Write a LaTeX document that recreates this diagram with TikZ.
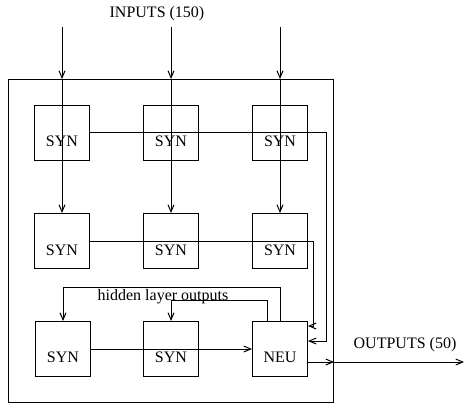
\documentclass[tikz,border=0pt]{standalone}
\usepackage{fontspec}
\setmainfont{Liberation Serif}
\usetikzlibrary{arrows.meta,calc}
\begin{document}
\begin{tikzpicture}[x=1pt, y=-1pt, >={Straight Barb[length=7pt,width=6pt]},
  font=\fontsize{16}{18}\selectfont, line width=1pt,
  caja/.style={draw, minimum width=55pt, minimum height=55pt, inner sep=0pt}]
  \useasboundingbox (0,0) rectangle (465,406);

  % --- marco exterior ---
  \node[draw, minimum width=325pt, minimum height=323pt, inner sep=0pt,
        anchor=north west] (M) at (8,79) {};

  % --- cajas ---
  \node[caja, label={[yshift=-8pt]center:SYN}] (s11) at (62,133) {};
  \node[caja, label={[yshift=-8pt]center:SYN}] (s12) at (171,133) {};
  \node[caja, label={[yshift=-8pt]center:SYN}] (s13) at (280,133) {};
  \node[caja, label={[yshift=-9pt]center:SYN}] (s21) at (62,241) {};
  \node[caja, label={[yshift=-9pt]center:SYN}] (s22) at (171,241) {};
  \node[caja, label={[yshift=-9pt]center:SYN}] (s23) at (280,241) {};
  \node[caja, label={[yshift=-8pt]center:SYN}] (s31) at (63,349) {};
  \node[caja, label={[yshift=-8pt]center:SYN}] (s32) at (171,349) {};
  \node[caja, label={[yshift=-8pt]center:NEU}] (neu) at (280,349) {};

  % --- entradas ---
  \coordinate (top) at (0,27);
  \node (lin) at (157,14) {INPUTS (150)};
  \draw[->] (s11 |- top) -- (s11 |- M.north);
  \draw[->] (s12 |- top) -- (s12 |- M.north);
  \draw[->] (s13 |- top) -- (s13 |- M.north);
  \draw[->] (s11 |- M.north) -- (s21.north);
  \draw[->] (s12 |- M.north) -- (s22.north);
  \draw[->] (s13 |- M.north) -- (s23.north);

  % --- filas hacia la neurona ---
  \coordinate (b1) at (326,0);
  \coordinate (b2) at (313,0);
  \coordinate (r1) at ([yshift=8pt]neu.east);
  \coordinate (r2) at ([yshift=23pt]neu.east);
  \draw[->] (s11.east) -- (b1 |- s11.east) -- (b1 |- r1) -- (r1);
  \draw[->] (s21.east) -- (b2 |- s21.east) -- (b2 |- r2) -- (r2);
  \draw[->] (s31.east) -- (neu.west);

  % --- salidas de la capa oculta ---
  \coordinate (h1) at (0,287);
  \coordinate (h2) at (0,300);
  \draw[->] (neu.north) |- (s31 |- h1) -- (s31.north);
  \draw[->] ([xshift=-13pt]neu.north) |- (s32 |- h2) -- (s32.north);
  \node[anchor=base] (lh) at (163,300) {hidden layer outputs};

  % --- salida ---
  \coordinate (sal) at ([yshift=-13pt]neu.east);
  \coordinate (fin) at (464,0);
  \draw[->] (sal) -- (sal -| M.east);
  \draw[->] (sal -| M.east) -- (fin |- sal);
  \node (lout) at (405,345) {OUTPUTS (50)};
\end{tikzpicture}
\end{document}
